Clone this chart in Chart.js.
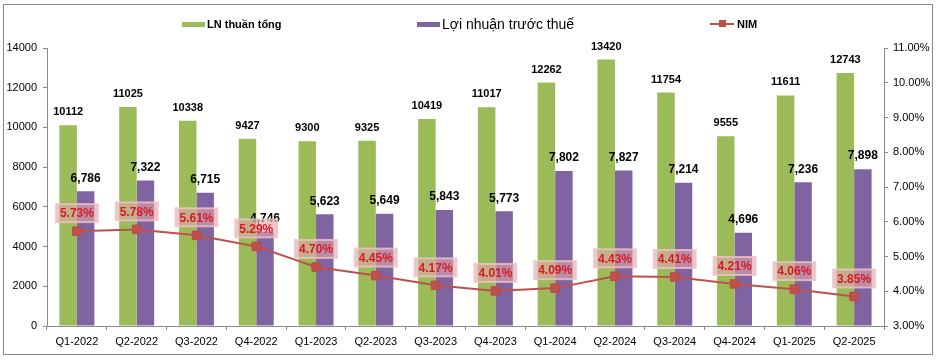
<!DOCTYPE html>
<html lang="vi">
<head>
<meta charset="utf-8">
<title>LN thuần tổng, Lợi nhuận trước thuế, NIM</title>
<script src="https://cdn.jsdelivr.net/npm/chart.js@4.4.0/dist/chart.umd.min.js"></script>
<style>
    html, body { margin: 0; padding: 0; background: #fff; }
    #wrap { position: relative; width: 936px; height: 360px; }
    #frame {
        position: absolute; left: 3px; top: 4px; width: 928px; height: 349px;
        border: 1px solid #8a8a8a; pointer-events: none;
    }
    .legend-item { position: absolute; display: flex; align-items: center; color: #000; font-family: "Liberation Sans", Arial, sans-serif; white-space: nowrap; }
    .swatch { display: inline-block; height: 5px; width: 23px; margin-right: 2px; }
    .nim-key { position: relative; width: 24px; height: 2px; background: #C0504D; margin-right: 3px; }
    .nim-key::after { content: ''; position: absolute; left: 9px; top: -3px; width: 7px; height: 7px; background: #C0504D; }
</style>
</head>
<body>
<div id="wrap">
    <canvas id="chart" width="936" height="360"></canvas>
    <div id="frame"></div>
    <div class="legend-item" style="left:182px; top:18px; font-size:11px; font-weight:bold;">
        <span class="swatch" style="background:#9BBB59"></span>LN thuần tổng
    </div>
    <div class="legend-item" style="left:417px; top:16px; font-size:14px;">
        <span class="swatch" style="background:#8064A2"></span>Lợi nhuận trước thuế
    </div>
    <div class="legend-item" style="left:710px; top:18px; font-size:11px; font-weight:bold;">
        <span class="nim-key"></span>NIM
    </div>
</div>
<script>
// Data
const quarters = ['Q1-2022', 'Q2-2022', 'Q3-2022', 'Q4-2022', 'Q1-2023', 'Q2-2023', 'Q3-2023',
    'Q4-2023', 'Q1-2024', 'Q2-2024', 'Q3-2024', 'Q4-2024', 'Q1-2025', 'Q2-2025'];
const lnThuanTong = [10112, 11025, 10338, 9427, 9300, 9325, 10419, 11017, 12262, 13420, 11754, 9555, 11611, 12743];
const loiNhuanTruocThue = [6786, 7322, 6715, 4746, 5623, 5649, 5843, 5773, 7802, 7827, 7214, 4696, 7236, 7898];
const nim = [5.73, 5.78, 5.61, 5.29, 4.70, 4.45, 4.17, 4.01, 4.09, 4.43, 4.41, 4.21, 4.06, 3.85];
const leftTicks = [0, 2000, 4000, 6000, 8000, 10000, 12000, 14000];
const rightTicks = [3, 4, 5, 6, 7, 8, 9, 10, 11];

const FONT = '"Liberation Sans", Arial, sans-serif';
const AXIS_COLOR = '#8a8a8a';

// Value labels above bars and NIM points
const valueLabels = {
    id: 'valueLabels',
    afterDatasetsDraw(chart) {
        const ctx = chart.ctx;
        ctx.save();
        ctx.textAlign = 'center';
        ctx.textBaseline = 'middle';

        chart.data.datasets.forEach((ds, di) => {
            if (ds.type === 'line') return;
            const meta = chart.getDatasetMeta(di);
            ctx.fillStyle = '#000';
            ctx.font = di === 1 ? `bold 11px ${FONT}` : `bold 12px ${FONT}`;
            meta.data.forEach((bar, i) => {
                const v = ds.data[i];
                const txt = di === 1 ? String(v) : v.toLocaleString('en-US');
                ctx.fillText(txt, bar.x, bar.y - 13);
            });
        });

        const lineIndex = chart.data.datasets.findIndex(ds => ds.type === 'line');
        const lineMeta = chart.getDatasetMeta(lineIndex);
        ctx.font = `bold 12px ${FONT}`;
        lineMeta.data.forEach((pt, i) => {
            const txt = nim[i].toFixed(2) + '%';
            const w = ctx.measureText(txt).width + 8;
            const h = 18;
            const cx = pt.x;
            const cy = pt.y - 18;
            ctx.fillStyle = 'rgba(224, 165, 170, 0.62)';
            ctx.strokeStyle = 'rgba(238, 196, 200, 0.8)';
            ctx.lineWidth = 2;
            ctx.fillRect(cx - w / 2, cy - h / 2, w, h);
            ctx.strokeRect(cx - w / 2, cy - h / 2, w, h);
            ctx.fillStyle = '#D81A24';
            ctx.fillText(txt, cx, cy + 1);
        });
        ctx.restore();
    }
};

const ctx = document.getElementById('chart').getContext('2d');
new Chart(ctx, {
    data: {
        labels: quarters,
        datasets: [
            {
                type: 'line',
                label: 'NIM',
                data: nim,
                yAxisID: 'y1',
                borderColor: '#C0504D',
                backgroundColor: '#C0504D',
                borderWidth: 2,
                pointStyle: 'rect',
                pointRadius: 6,
                pointBorderWidth: 1,
                pointBorderColor: '#B84A47',
                tension: 0,
                order: 0
            },
            {
                type: 'bar',
                label: 'LN thuần tổng',
                data: lnThuanTong,
                yAxisID: 'y',
                backgroundColor: '#9BBB59',
                barPercentage: 1,
                categoryPercentage: 0.585,
                order: 1
            },
            {
                type: 'bar',
                label: 'Lợi nhuận trước thuế',
                data: loiNhuanTruocThue,
                yAxisID: 'y',
                backgroundColor: '#8064A2',
                barPercentage: 1,
                categoryPercentage: 0.585,
                order: 1
            }
        ]
    },
    options: {
        responsive: false,
        animation: false,
        layout: { padding: { top: 48, left: 0, right: 0, bottom: 0 } },
        plugins: {
            legend: { display: false },
            tooltip: { enabled: false }
        },
        scales: {
            x: {
                offset: true,
                grid: { drawOnChartArea: false, drawTicks: true, tickLength: 4, color: AXIS_COLOR, offset: true },
                border: { color: AXIS_COLOR },
                ticks: { color: '#000', font: { family: FONT, size: 11 }, padding: 5, maxRotation: 0, autoSkip: false },
                afterFit: (scale) => { scale.height = 34; }
            },
            y: {
                position: 'left',
                min: 0,
                max: 14000,
                afterBuildTicks: (scale) => { scale.ticks = leftTicks.map(v => ({ value: v })); },
                grid: { drawOnChartArea: false, drawTicks: true, tickLength: 4, color: AXIS_COLOR },
                border: { color: AXIS_COLOR },
                ticks: { color: '#000', font: { family: FONT, size: 11 }, padding: 6, callback: (v) => String(v) },
                afterFit: (scale) => { scale.width = 47; }
            },
            y1: {
                position: 'right',
                min: 3,
                max: 11,
                afterBuildTicks: (scale) => { scale.ticks = rightTicks.map(v => ({ value: v })); },
                grid: { drawOnChartArea: false, drawTicks: true, tickLength: 4, color: AXIS_COLOR },
                border: { color: AXIS_COLOR },
                ticks: { color: '#000', font: { family: FONT, size: 11 }, padding: 5, callback: (v) => v.toFixed(2) + '%' },
                afterFit: (scale) => { scale.width = 52; }
            }
        }
    },
    plugins: [valueLabels]
});
</script>
</body>
</html>
